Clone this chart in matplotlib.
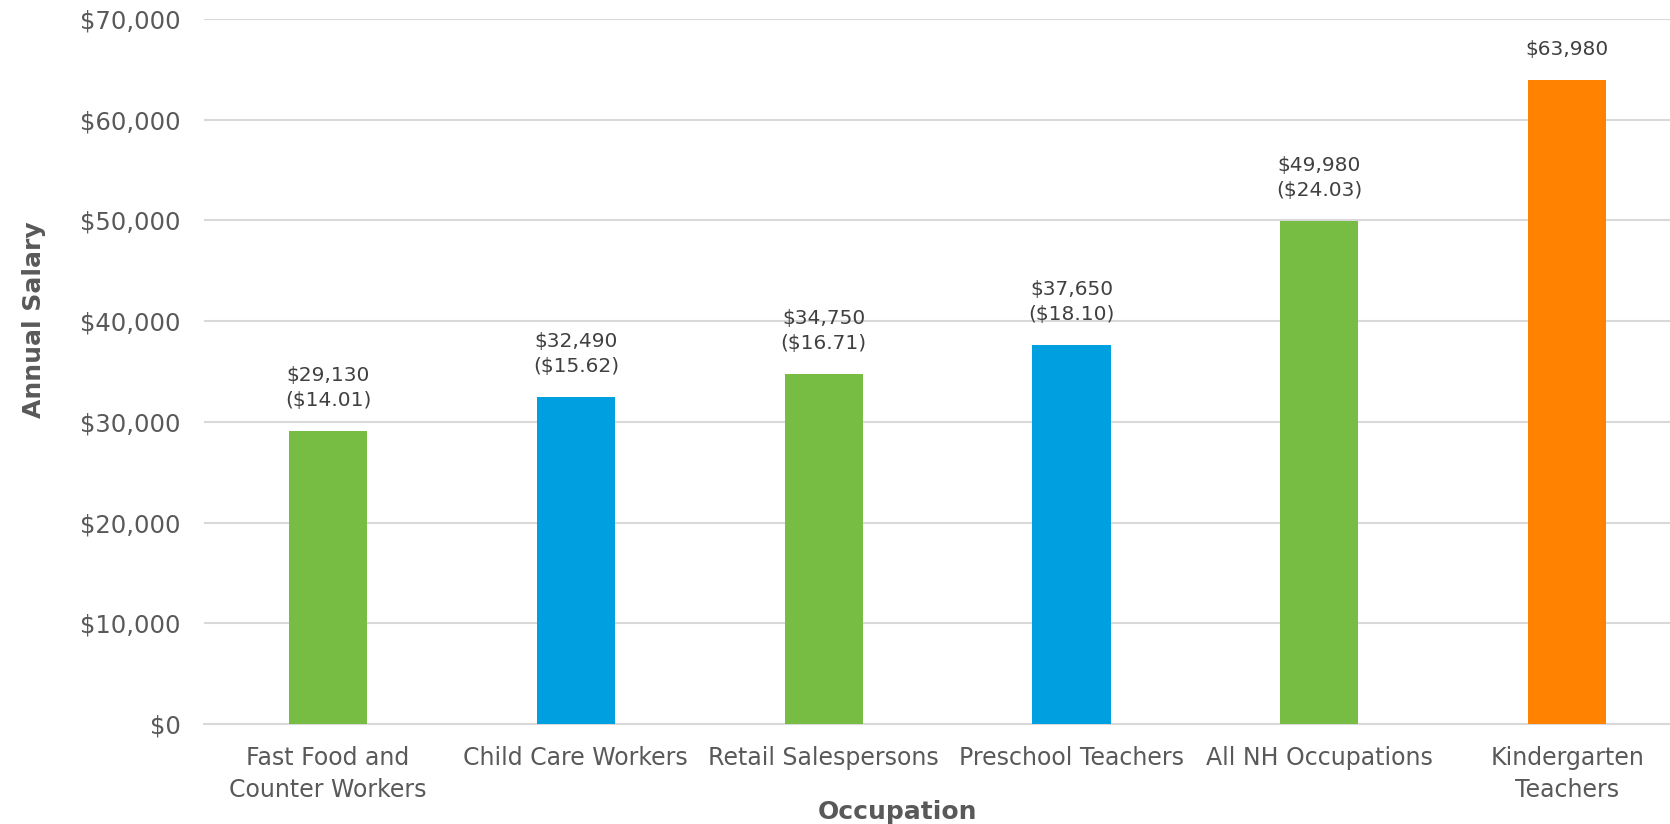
import matplotlib.pyplot as plt

occupations = ["Fast Food and\nCounter Workers", "Child Care Workers", "Retail Salespersons",
               "Preschool Teachers", "All NH Occupations", "Kindergarten\nTeachers"]
annual_salary = [29130, 32490, 34750, 37650, 49980, 63980]
hourly_wage = ["$14.01", "$15.62", "$16.71", "$18.10", "$24.03", None]
bar_colors = ["#77BC43", "#009FDF", "#77BC43", "#009FDF", "#77BC43", "#FF8300"]
y_ticks = [0, 10000, 20000, 30000, 40000, 50000, 60000, 70000]

plt.rcParams['font.family'] = ['DejaVu Sans']
text_color = "#595959"

fig = plt.figure(figsize=(16.7, 8.24), dpi=100)
ax = fig.add_axes([0.1222, 0.1214, 0.8778, 0.8556])

x = range(len(occupations))
ax.bar(x, annual_salary, width=0.315, color=bar_colors, zorder=3)

for i, (sal, hr) in enumerate(zip(annual_salary, hourly_wage)):
    label = f"${sal:,}" if hr is None else f"${sal:,}\n({hr})"
    ax.annotate(label, (i, sal), xytext=(0, 15), textcoords='offset points',
                ha='center', va='bottom', fontsize=14.5, color="#404040", linespacing=1.4)

ax.set_xlim(-0.5, 5.415)
ax.set_ylim(0, 70000)
ax.set_yticks(y_ticks)
ax.set_yticklabels([f"${v:,}" for v in y_ticks])
ax.set_xticks(list(x))
ax.set_xticklabels(occupations, linespacing=1.4)

ax.grid(axis='y', color="#D9D9D9", linewidth=1.5, zorder=0)
ax.tick_params(axis='y', length=0, pad=17, labelsize=17.5, labelcolor=text_color)
ax.tick_params(axis='x', length=0, pad=16, labelsize=17, labelcolor=text_color)
for side in ['top', 'right', 'left']:
    ax.spines[side].set_visible(False)
ax.spines['bottom'].set_color("#D9D9D9")
ax.spines['bottom'].set_linewidth(1.5)

ax.set_xlabel("Occupation", fontsize=18, fontweight='bold', color=text_color)
ax.xaxis.set_label_coords(0.473, -0.108)
ax.set_ylabel("Annual Salary", fontsize=18, fontweight='bold', color=text_color)
ax.yaxis.set_label_coords(-0.108, 0.573)

fig.savefig("out.png", dpi=100)
